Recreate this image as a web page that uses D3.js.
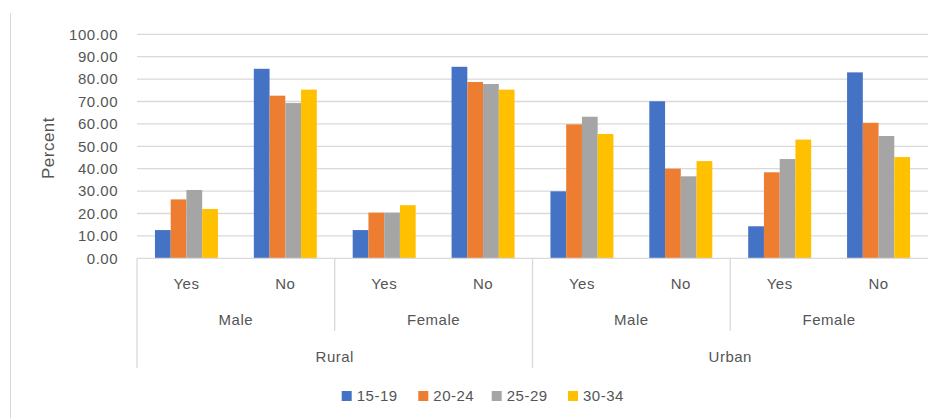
<!DOCTYPE html>
<html>
<head>
<meta charset="utf-8">
<script src="https://cdn.jsdelivr.net/npm/d3@7"></script>
<style>
  html, body { margin: 0; padding: 0; background: #fff; }
  svg { display: block; }
  text { font-family: "Liberation Sans", "DejaVu Sans", sans-serif; fill: #555555; letter-spacing: 0.5px; }
</style>
</head>
<body>
<svg id="chart" width="938" height="418"></svg>
<script>
// Category hierarchy along the x axis
const regions = ["Rural", "Urban"];
const sexes = ["Male", "Female"];
const answers = ["Yes", "No"];

// Age-group series
const ageGroups = ["15-19", "20-24", "25-29", "30-34"];
const colors = ["#4472C4", "#ED7D31", "#A5A5A5", "#FFC000"];

// Percent per leaf category (Rural M Yes, Rural M No, Rural F Yes, Rural F No, Urban M Yes, ...)
const s15_19 = [12.6, 84.6, 12.6, 85.5, 29.9, 70.1, 14.3, 83.0];
const s20_24 = [26.3, 72.6, 20.4, 78.7, 59.8, 40.0, 38.4, 60.5];
const s25_29 = [30.5, 69.3, 20.4, 77.8, 63.2, 36.6, 44.3, 54.6];
const s30_34 = [22.0, 75.3, 23.7, 75.3, 55.5, 43.4, 53.0, 45.2];
const seriesValues = [s15_19, s20_24, s25_29, s30_34];

const yTicks = [0, 10, 20, 30, 40, 50, 60, 70, 80, 90, 100];

// Build leaf categories
const leaves = [];
regions.forEach(r => sexes.forEach(s => answers.forEach(a => leaves.push({ region: r, sex: s, answer: a, key: r + "|" + s + "|" + a }))));

const svg = d3.select("#chart");

const plot = { left: 137, right: 928, top: 34.3, bottom: 258.3 };
const fontSize = 15;

const x0 = d3.scaleBand()
  .domain(leaves.map(d => d.key))
  .range([plot.left, plot.right])
  .paddingInner(0).paddingOuter(0);

const x1 = d3.scaleBand()
  .domain(ageGroups)
  .range([0, x0.bandwidth()])
  .paddingInner(0).paddingOuter(1.14);

const y = d3.scaleLinear().domain([0, 100]).range([plot.bottom, plot.top]);

// Left frame edge
svg.append("line")
  .attr("x1", 10.5).attr("x2", 10.5).attr("y1", 13).attr("y2", 418)
  .attr("stroke", "#d9d9d9").attr("stroke-width", 1);

// Gridlines
svg.append("g")
  .selectAll("line")
  .data(yTicks.filter(t => t > 0))
  .join("line")
  .attr("x1", plot.left).attr("x2", plot.right)
  .attr("y1", d => y(d)).attr("y2", d => y(d))
  .attr("stroke", "#d9d9d9").attr("stroke-width", 1.3);

// Y axis labels
const yAxis = d3.axisLeft(y).tickValues(yTicks).tickFormat(d3.format(".2f")).tickSize(0).tickPadding(19);
const yg = svg.append("g").attr("transform", `translate(${plot.left},0)`).call(yAxis);
yg.select(".domain").remove();
yg.selectAll("text").attr("font-size", fontSize).style("fill", "#555555")
  .attr("font-family", "'Liberation Sans', sans-serif");

// Y axis title
svg.append("text")
  .attr("transform", `translate(54,148) rotate(-90)`)
  .attr("text-anchor", "middle")
  .attr("font-size", 17)
  .text("Percent");

// Bars
const groups = svg.append("g")
  .selectAll("g")
  .data(leaves)
  .join("g")
  .attr("transform", d => `translate(${x0(d.key)},0)`);

groups.selectAll("rect")
  .data((d, i) => ageGroups.map((a, k) => ({ age: a, k, value: seriesValues[k][i] })))
  .join("rect")
  .attr("x", d => x1(d.age))
  .attr("width", x1.bandwidth())
  .attr("y", d => y(d.value))
  .attr("height", d => y(0) - y(d.value))
  .attr("fill", d => colors[d.k]);

// Baseline
svg.append("line")
  .attr("x1", plot.left).attr("x2", plot.right)
  .attr("y1", y(0)).attr("y2", y(0))
  .attr("stroke", "#d9d9d9").attr("stroke-width", 1.3);

// Multi-level category axis
const axisG = svg.append("g");
const step = x0.step();

// Leaf labels (Yes / No)
axisG.selectAll("text.leaf")
  .data(leaves)
  .join("text")
  .attr("class", "leaf")
  .attr("x", d => x0(d.key) + step / 2)
  .attr("y", 283.3)
  .attr("dy", "0.35em")
  .attr("text-anchor", "middle")
  .attr("font-size", fontSize)
  .text(d => d.answer);

// Sex level
const sexGroups = [];
regions.forEach(r => sexes.forEach(s => sexGroups.push({ region: r, sex: s })));
axisG.selectAll("text.sex")
  .data(sexGroups)
  .join("text")
  .attr("class", "sex")
  .attr("x", d => x0(d.region + "|" + d.sex + "|Yes") + step)
  .attr("y", 320)
  .attr("dy", "0.35em")
  .attr("text-anchor", "middle")
  .attr("font-size", fontSize)
  .text(d => d.sex);

// Region level
axisG.selectAll("text.region")
  .data(regions)
  .join("text")
  .attr("class", "region")
  .attr("x", d => x0(d + "|Male|Yes") + step * 2)
  .attr("y", 356.7)
  .attr("dy", "0.35em")
  .attr("text-anchor", "middle")
  .attr("font-size", fontSize)
  .text(d => d);

// Separators: tall ones at region starts, short ones between sexes
axisG.selectAll("line.regionSep")
  .data(regions)
  .join("line")
  .attr("class", "regionSep")
  .attr("x1", d => x0(d + "|Male|Yes")).attr("x2", d => x0(d + "|Male|Yes"))
  .attr("y1", y(0)).attr("y2", 368)
  .attr("stroke", "#d9d9d9").attr("stroke-width", 1.3);

axisG.selectAll("line.sexSep")
  .data(regions)
  .join("line")
  .attr("class", "sexSep")
  .attr("x1", d => x0(d + "|Female|Yes")).attr("x2", d => x0(d + "|Female|Yes"))
  .attr("y1", y(0)).attr("y2", 331)
  .attr("stroke", "#d9d9d9").attr("stroke-width", 1.3);

// Legend
const legendX = [341.7, 418.3, 491.7, 568];
const legend = svg.append("g")
  .selectAll("g")
  .data(ageGroups)
  .join("g")
  .attr("transform", (d, i) => `translate(${legendX[i]},396)`);
legend.append("rect")
  .attr("x", 0).attr("y", -5).attr("width", 10).attr("height", 10)
  .attr("fill", (d, i) => colors[i]);
legend.append("text")
  .attr("x", 15).attr("y", 0).attr("dy", "0.35em")
  .attr("font-size", fontSize)
  .text(d => d);
</script>
</body>
</html>
